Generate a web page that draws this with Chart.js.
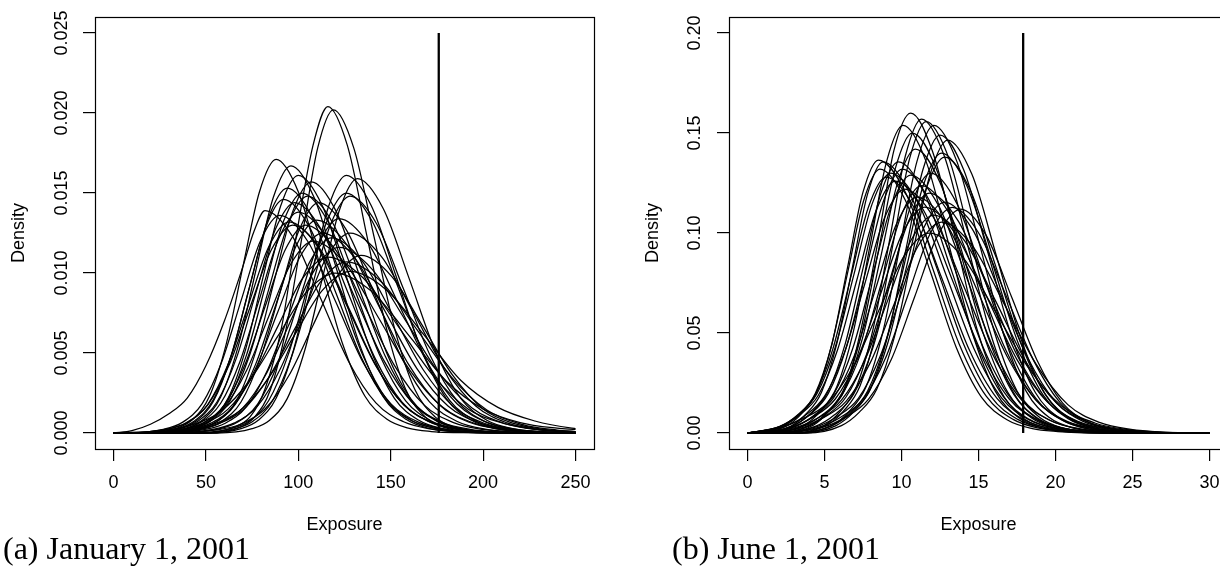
<!DOCTYPE html>
<html>
<head>
<meta charset="utf-8">
<script src="https://cdn.jsdelivr.net/npm/chart.js@4.4.1/dist/chart.umd.min.js"></script>
<style>
  html, body { margin: 0; padding: 0; background: #fff; width: 1220px; height: 572px; overflow: hidden; }
  .panel { position: absolute; top: 0; }
  #wrapA { left: 0; width: 610px; height: 572px; }
  #wrapB { left: 610px; width: 640px; height: 572px; }
  .caption { position: absolute; top: 532px; font-family: "Liberation Serif", serif; font-size: 32px; line-height: 1; color: #000; white-space: nowrap; }
  #capA { left: 3px; }
  #capB { left: 672px; }
</style>
</head>
<body>
<div class="panel" id="wrapA"><canvas id="chartA" width="610" height="572"></canvas></div>
<div class="panel" id="wrapB"><canvas id="chartB" width="640" height="572"></canvas></div>
<div class="caption" id="capA">(a) January 1, 2001</div>
<div class="caption" id="capB">(b) June 1, 2001</div>

<script>
// ---- data: panel (a) January 1, 2001 ----
const xTicksA = [0, 50, 100, 150, 200, 250];
const yTicksA = [0, 0.005, 0.01, 0.015, 0.02, 0.025];
const obsA = 176; // observed exposure (vertical line)
const unitA = 0.001; // curve densities below are read in thousandths
// each curve: [exposure, density] points
const curvesA = [
  [[0,0],[48,0],[65,0.35],[74,1.02],[82,2.75],[91,6.63],[99,12.38],[108,17.99],[116,20.4],[126.5,17.99],[137,12.38],[147.5,6.63],[158,2.75],[168.5,1.02],[179,0.35],[189.5,0.1],[200,0.02],[250,0]],
  [[0,0],[51,0],[68,0.34],[76.5,1.01],[85,2.73],[93.5,6.57],[102,12.26],[110.5,17.82],[119,20.2],[130,17.82],[141,12.26],[152,6.57],[163,2.73],[174,1.01],[185,0.34],[196,0.1],[207,0.02],[250,0]],
  [[0,0],[16,0],[34,0.29],[43,0.86],[52,2.31],[61,5.56],[70,10.38],[79,15.08],[88,17.1],[100,15.08],[112,10.38],[124,5.56],[136,2.31],[148,0.86],[160,0.29],[172,0.09],[184,0.02],[250,0]],
  [[0,0],[20,0],[39,0.28],[48.5,0.84],[58,2.25],[67.5,5.43],[77,10.14],[86.5,14.73],[96,16.7],[108.5,14.73],[121,10.14],[133.5,5.43],[146,2.25],[158.5,0.84],[171,0.28],[183.5,0.08],[196,0.02],[250,0]],
  [[0,0],[24,0],[43,0.27],[52.5,0.81],[62,2.17],[71.5,5.23],[81,9.77],[90.5,14.2],[100,16.1],[113,14.2],[126,9.77],[139,5.23],[152,2.17],[165,0.81],[178,0.27],[191,0.08],[204,0.02],[250,0]],
  [[0,0],[50,0],[69,0.27],[78.5,0.81],[88,2.17],[97.5,5.23],[107,9.77],[116.5,14.2],[126,16.1],[139.5,14.2],[153,9.77],[166.5,5.23],[180,2.17],[193.5,0.81],[207,0.27],[220.5,0.08],[234,0.02],[250,0]],
  [[0,0],[56,0],[75,0.27],[84.5,0.8],[94,2.15],[103.5,5.17],[113,9.65],[122.5,14.02],[132,15.9],[146,14.02],[160,9.65],[174,5.17],[188,2.15],[202,0.8],[216,0.27],[230,0.08],[244,0.02],[250,0.01]],
  [[0,0],[27,0],[47,0.27],[57,0.79],[67,2.12],[77,5.1],[87,9.53],[97,13.85],[107,15.7],[120.5,13.85],[134,9.53],[147.5,5.1],[161,2.12],[174.5,0.79],[188,0.27],[201.5,0.08],[215,0.02],[250,0]],
  [[0,0],[14,0],[34,0.26],[44,0.77],[54,2.07],[64,4.97],[74,9.29],[84,13.49],[94,15.3],[107.5,13.49],[121,9.29],[134.5,4.97],[148,2.07],[161.5,0.77],[175,0.26],[188.5,0.08],[202,0.02],[250,0]],
  [[0,0],[42,0],[63,0.26],[73.5,0.75],[84,2.03],[94.5,4.88],[105,9.11],[115.5,13.23],[126,15],[140,13.23],[154,9.11],[168,4.88],[182,2.03],[196,0.75],[210,0.26],[224,0.08],[238,0.02],[250,0]],
  [[0,0],[44,0],[65,0.25],[75.5,0.74],[86,2],[96.5,4.81],[107,8.98],[117.5,13.05],[128,14.8],[142.5,13.05],[157,8.98],[171.5,4.81],[186,2],[200.5,0.74],[215,0.25],[229.5,0.07],[244,0.01],[250,0.01]],
  [[0,0],[22,0],[42,0.26],[52,0.75],[62,2.03],[72,4.88],[82,9.11],[92,13.23],[102,15],[116,13.23],[130,9.11],[144,4.88],[158,2.03],[172,0.75],[186,0.26],[200,0.08],[214,0.02],[250,0]],
  [[0,0],[21,0],[42,0.25],[52.5,0.74],[63,2],[73.5,4.81],[84,8.98],[94.5,13.05],[105,14.8],[119,13.05],[133,8.98],[147,4.81],[161,2],[175,0.74],[189,0.25],[203,0.07],[217,0.01],[250,0]],
  [[0,0],[10,0.15],[20,0.55],[30,1.2],[40,2.2],[50,4.2],[60,7],[70,10.4],[76,12.6],[82,13.9],[97,12.26],[112,8.44],[127,4.52],[142,1.88],[157,0.7],[172,0.24],[187,0.07],[202,0.01],[250,0]],
  [[0,0],[14,0],[35,0.24],[45.5,0.72],[56,1.94],[66.5,4.68],[77,8.74],[87.5,12.7],[98,14.4],[112.5,12.7],[127,8.74],[141.5,4.68],[156,1.94],[170.5,0.72],[185,0.24],[199.5,0.07],[214,0.01],[250,0]],
  [[0,0],[27,0],[48,0.24],[58.5,0.72],[69,1.94],[79.5,4.68],[90,8.74],[100.5,12.7],[111,14.4],[126,12.7],[141,8.74],[156,4.68],[171,1.94],[186,0.72],[201,0.24],[216,0.07],[231,0.01],[250,0]],
  [[0,0],[6,0],[27,0.23],[37.5,0.68],[48,1.84],[58.5,4.42],[69,8.26],[79.5,12],[90,13.6],[105,12],[120,8.26],[135,4.42],[150,1.84],[165,0.68],[180,0.23],[195,0.07],[210,0.01],[250,0]],
  [[0,0],[34,0],[56,0.23],[67,0.67],[78,1.81],[89,4.36],[100,8.13],[111,11.82],[122,13.4],[138,11.82],[154,8.13],[170,4.36],[186,1.81],[202,0.67],[218,0.23],[234,0.07],[250,0.01]],
  [[0,0],[7,0],[29,0.22],[40,0.66],[51,1.78],[62,4.29],[73,8.01],[84,11.64],[95,13.2],[110.5,11.64],[126,8.01],[141.5,4.29],[157,1.78],[172.5,0.66],[188,0.22],[203.5,0.07],[219,0.01],[250,0]],
  [[0,0],[17,0],[41,0.21],[53,0.63],[65,1.69],[77,4.06],[89,7.59],[101,11.03],[113,12.5],[130,11.03],[147,7.59],[164,4.06],[181,1.69],[198,0.63],[215,0.21],[232,0.06],[249,0.01],[250,0.01]],
  [[0,0],[28,0],[53,0.21],[65.5,0.63],[78,1.69],[90.5,4.06],[103,7.59],[115.5,11.03],[128,12.5],[145,11.03],[162,7.59],[179,4.06],[196,1.69],[213,0.63],[230,0.21],[247,0.06],[250,0.05]],
  [[0,0],[18,0],[44,0.2],[57,0.58],[70,1.57],[83,3.77],[96,7.04],[109,10.23],[122,11.6],[140,10.23],[158,7.04],[176,3.77],[194,1.57],[212,0.58],[230,0.2],[248,0.06],[250,0.05]],
  [[0,0],[14,0],[42,0.18],[56,0.54],[70,1.44],[84,3.48],[98,6.49],[112,9.44],[126,10.7],[145,9.44],[164,6.49],[183,3.48],[202,1.44],[221,0.54],[240,0.18],[250,0.09]],
  [[0,0],[8,0],[38,0.17],[53,0.51],[68,1.36],[83,3.28],[98,6.13],[113,8.91],[128,10.1],[148,8.91],[168,6.13],[188,3.28],[208,1.6],[228,0.75],[248,0.3],[250,0.28]],
  [[0,0],[27,0.17],[42.5,0.5],[58,1.35],[73.5,3.25],[89,6.07],[104.5,8.82],[120,10],[140,8.82],[160,6.07],[180,3.25],[200,1.5],[220,0.65],[240,0.3],[250,0.22]],
  [[0,0],[30,0],[56,0.19],[69,0.56],[82,1.5],[95,3.61],[108,6.74],[121,9.79],[134,11.1],[150.5,9.79],[167,6.74],[183.5,3.61],[200,1.5],[216.5,0.6],[233,0.22],[250,0.08]],
  [[0,0],[16,0],[38,0.22],[49,0.65],[60,1.76],[71,4.23],[82,7.89],[93,11.47],[104,13],[120,11.47],[136,7.89],[152,4.23],[168,1.76],[184,0.65],[200,0.22],[216,0.07],[232,0.01],[250,0]],
  [[0,0],[12,0],[36,0.2],[48,0.6],[60,1.62],[72,3.9],[84,7.28],[96,10.58],[108,12],[125.5,10.58],[143,7.28],[160.5,3.9],[178,1.62],[195.5,0.6],[213,0.2],[230.5,0.06],[248,0.01],[250,0.01]],
  [[0,0],[8,0],[35,0.19],[48.5,0.55],[62,1.49],[75.5,3.58],[89,6.68],[102.5,9.7],[116,11],[135,9.7],[154,6.68],[173,3.58],[192,1.49],[211,0.6],[230,0.22],[249,0.08],[250,0.08]],
  [[0,0],[16,0],[37,0.23],[47.5,0.69],[58,1.86],[68.5,4.49],[79,8.38],[89.5,12.17],[100,13.8],[115.5,12.17],[131,8.38],[146.5,4.49],[162,1.86],[177.5,0.69],[193,0.23],[208.5,0.07],[224,0.01],[250,0]],
  [[0,0],[16,0],[35,0.25],[44.5,0.73],[54,1.97],[63.5,4.75],[73,8.86],[82.5,12.88],[92,14.6],[106,12.88],[120,8.86],[134,4.75],[148,1.97],[162,0.73],[176,0.25],[190,0.07],[204,0.01],[250,0]],
  [[0,0],[22,0],[44,0.23],[55,0.67],[66,1.8],[77,4.32],[88,8.07],[99,11.73],[110,13.3],[126.5,11.73],[143,8.07],[159.5,4.32],[176,1.8],[192.5,0.67],[209,0.23],[225.5,0.07],[242,0.01],[250,0]],
  [[0,0],[5,0],[28,0.22],[39.5,0.65],[51,1.76],[62.5,4.23],[74,7.89],[85.5,11.47],[97,13],[112,11.47],[127,7.89],[142,4.23],[157,1.76],[172,0.65],[187,0.22],[202,0.07],[217,0.01],[250,0]],
  [[0,0],[26,0],[49,0.21],[60.5,0.61],[72,1.65],[83.5,3.97],[95,7.41],[106.5,10.76],[118,12.2],[134.5,10.76],[151,7.41],[167.5,3.97],[184,1.65],[200.5,0.61],[217,0.21],[233.5,0.06],[250,0.01]]
];

// ---- data: panel (b) June 1, 2001 ----
const xTicksB = [0, 5, 10, 15, 20, 25, 30];
const yTicksB = [0, 0.05, 0.1, 0.15, 0.2];
const obsB = 17.9;
const unitB = 0.01; // curve densities below are read in hundredths
const curvesB = [
  [[0,0],[2.2,0],[4.3,0.4],[5.3,1.12],[6.4,2.4],[7.4,5.28],[8.5,9.71],[9.5,14.11],[10.6,16],[12,14.11],[13.5,9.71],[14.9,5.2],[16.4,2.16],[17.8,0.8],[19.3,0.27],[20.7,0.08],[22.2,0.02],[30,0]],
  [[0,0],[1.5,0],[3.65,0.38],[4.73,1.08],[5.8,2.31],[6.88,5.08],[7.95,9.34],[9.03,13.57],[10.1,15.38],[11.6,13.57],[13.1,9.34],[14.6,5],[16.1,2.08],[17.6,0.77],[19.1,0.26],[20.6,0.08],[22.1,0.02],[30,0]],
  [[0,0],[2.9,0],[5,0.39],[6.05,1.1],[7.1,2.36],[8.15,5.18],[9.2,9.53],[10.25,13.85],[11.3,15.7],[12.78,13.85],[14.25,9.53],[15.73,5.1],[17.2,2.12],[18.68,0.79],[20.15,0.27],[21.63,0.08],[23.1,0.02],[30,0]],
  [[0,0],[3,0],[5.15,0.39],[6.23,1.09],[7.3,2.34],[8.38,5.14],[9.45,9.45],[10.53,13.73],[11.6,15.57],[13.08,13.73],[14.55,9.45],[16.03,5.06],[17.5,2.1],[18.98,0.78],[20.45,0.26],[21.93,0.08],[23.4,0.02],[30,0]],
  [[0,0],[3.3,0],[5.5,0.38],[6.6,1.08],[7.7,2.31],[8.8,5.08],[9.9,9.34],[11,13.57],[12.1,15.38],[13.6,13.57],[15.1,9.34],[16.6,5],[18.1,2.08],[19.6,0.77],[21.1,0.26],[22.6,0.08],[24.1,0.02],[30,0]],
  [[0,0],[3.5,0],[5.75,0.37],[6.88,1.04],[8,2.24],[9.13,4.92],[10.25,9.04],[11.38,13.14],[12.5,14.9],[14.05,13.14],[15.6,9.04],[17.15,4.84],[18.7,2.01],[20.25,0.75],[21.8,0.25],[23.35,0.07],[24.9,0.01],[30,0]],
  [[0,0],[3.8,0],[6.1,0.37],[7.25,1.03],[8.4,2.2],[9.55,4.83],[10.7,8.89],[11.85,12.92],[13,14.65],[14.58,12.92],[16.15,8.89],[17.73,4.76],[19.3,1.98],[20.88,0.73],[22.45,0.25],[24.03,0.07],[25.6,0.01],[30,0]],
  [[0,0],[1.9,0],[4.1,0.38],[5.2,1.05],[6.3,2.25],[7.4,4.95],[8.5,9.11],[9.6,13.23],[10.7,15],[12.25,13.23],[13.8,9.11],[15.35,4.88],[16.9,2.03],[18.45,0.75],[20,0.26],[21.55,0.08],[23.1,0.02],[30,0]],
  [[0,0],[3,0],[5.4,0.35],[6.6,0.98],[7.8,2.1],[9,4.62],[10.2,8.5],[11.4,12.35],[12.6,14],[14.25,12.35],[15.9,8.5],[17.55,4.55],[19.2,1.89],[20.85,0.7],[22.5,0.24],[24.15,0.07],[25.8,0.01],[30,0]],
  [[0,0],[3,0],[5.45,0.35],[6.68,0.97],[7.9,2.07],[9.13,4.55],[10.35,8.38],[11.58,12.17],[12.8,13.8],[14.45,12.17],[16.1,8.38],[17.75,4.49],[19.4,1.86],[21.05,0.69],[22.7,0.23],[24.35,0.07],[26,0.01],[30,0]],
  [[0,0],[0.5,0],[2.5,0.34],[3.5,0.96],[4.5,2.05],[5.5,4.5],[6.5,8.29],[7.5,12.04],[8.5,13.65],[10.25,12.04],[12,8.29],[13.75,4.44],[15.5,1.84],[17.25,0.68],[19,0.23],[20.75,0.07],[22.5,0.01],[30,0]],
  [[0,0],[0.8,0],[2.8,0.34],[3.8,0.95],[4.8,2.03],[5.8,4.47],[6.8,8.23],[7.8,11.96],[8.8,13.56],[10.55,11.96],[12.3,8.23],[14.05,4.41],[15.8,1.83],[17.55,0.68],[19.3,0.23],[21.05,0.07],[22.8,0.01],[30,0]],
  [[0,0],[0.2,0],[2.3,0.33],[3.35,0.92],[4.4,1.98],[5.45,4.36],[6.5,8.01],[7.55,11.64],[8.6,13.2],[10.25,11.64],[11.9,8.01],[13.55,4.29],[15.2,1.78],[16.85,0.66],[18.5,0.22],[20.15,0.07],[21.8,0.01],[30,0]],
  [[0,0],[0.6,0],[2.9,0.34],[4.05,0.95],[5.2,2.03],[6.35,4.47],[7.5,8.23],[8.65,11.96],[9.8,13.56],[11.5,11.96],[13.2,8.23],[14.9,4.41],[16.6,1.83],[18.3,0.68],[20,0.23],[21.7,0.07],[23.4,0.01],[30,0]],
  [[0,0],[0.45,0],[2.85,0.33],[4.05,0.92],[5.25,1.98],[6.45,4.36],[7.65,8.01],[8.85,11.64],[10.05,13.2],[11.8,11.64],[13.55,8.01],[15.3,4.29],[17.05,1.78],[18.8,0.66],[20.55,0.22],[22.3,0.07],[24.05,0.01],[30,0]],
  [[0,0],[0.6,0],[3.1,0.32],[4.35,0.9],[5.6,1.94],[6.85,4.26],[8.1,7.83],[9.35,11.38],[10.6,12.9],[12.4,11.38],[14.2,7.83],[16,4.19],[17.8,1.74],[19.6,0.65],[21.4,0.22],[23.2,0.06],[25,0.01],[30,0]],
  [[0,0],[0.9,0],[3.5,0.31],[4.8,0.87],[6.1,1.86],[7.4,4.08],[8.7,7.51],[10,10.91],[11.3,12.37],[13.15,10.91],[15,7.51],[16.85,4.02],[18.7,1.67],[20.55,0.62],[22.4,0.21],[24.25,0.06],[26.1,0.01],[30,0]],
  [[0,0],[1,0],[3.7,0.3],[5.05,0.84],[6.4,1.8],[7.75,3.96],[9.1,7.28],[10.45,10.58],[11.8,12],[13.7,10.58],[15.6,7.28],[17.5,3.9],[19.4,1.62],[21.3,0.6],[23.2,0.2],[25.1,0.06],[27,0.01],[30,0]],
  [[0,0],[1.6,0],[4.4,0.29],[5.8,0.81],[7.2,1.73],[8.6,3.81],[10,7.01],[11.4,10.19],[12.8,11.55],[14.6,10.19],[16.4,7.01],[18.2,3.75],[20,1.56],[21.8,0.58],[23.6,0.2],[25.4,0.06],[27.2,0.01],[30,0]],
  [[0,0],[1.7,0],[4.6,0.28],[6.05,0.79],[7.5,1.69],[8.95,3.72],[10.4,6.85],[11.85,9.95],[13.3,11.28],[15.05,9.95],[16.8,6.85],[18.55,3.67],[20.3,1.52],[22.05,0.56],[23.8,0.19],[25.55,0.06],[27.3,0.01],[30,0]],
  [[0,0],[1.85,0],[4.85,0.28],[6.35,0.78],[7.85,1.68],[9.35,3.7],[10.85,6.8],[12.35,9.88],[13.85,11.2],[15.5,9.88],[17.15,6.8],[18.8,3.64],[20.45,1.51],[22.1,0.56],[23.75,0.19],[25.4,0.06],[27.05,0.01],[30,0]],
  [[0,0],[0.1,0],[3.1,0.27],[4.6,0.76],[6.1,1.64],[7.6,3.6],[9.1,6.62],[10.6,9.61],[12.1,10.9],[14.1,9.61],[16.1,6.62],[18.1,3.54],[20.1,1.47],[22.1,0.55],[24.1,0.19],[26.1,0.05],[28.1,0.01],[30,0]],
  [[0,0],[0.2,0],[3.3,0.26],[4.85,0.74],[6.4,1.58],[7.95,3.48],[9.5,6.4],[11.05,9.31],[12.6,10.55],[14.65,9.31],[16.7,6.4],[18.75,3.43],[20.8,1.42],[22.85,0.53],[24.9,0.18],[26.95,0.05],[29,0.01],[30,0]],
  [[0,0],[1.9,0.25],[3.55,0.7],[5.2,1.5],[6.85,3.3],[8.5,6.07],[10.15,8.82],[11.8,10],[13.95,8.82],[16.1,6.07],[18.25,3.25],[20.4,1.35],[22.55,0.5],[24.7,0.17],[26.85,0.05],[29,0.01],[30,0]],
  [[0,0],[2.1,0.33],[3.3,0.91],[4.5,1.95],[5.7,4.29],[6.9,7.89],[8.1,11.47],[9.3,13],[11.1,11.47],[12.9,7.89],[14.7,4.23],[16.5,1.76],[18.3,0.65],[20.1,0.22],[21.9,0.07],[23.7,0.01],[30,0]],
  [[0,0],[2.1,0.32],[3.35,0.88],[4.6,1.89],[5.85,4.16],[7.1,7.65],[8.35,11.11],[9.6,12.6],[11.45,11.11],[13.3,7.65],[15.15,4.1],[17,1.7],[18.85,0.63],[20.7,0.21],[22.55,0.06],[24.4,0.01],[30,0]],
  [[0,0],[2.4,0.31],[3.7,0.85],[5,1.83],[6.3,4.03],[7.6,7.41],[8.9,10.76],[10.2,12.2],[12.1,10.76],[14,7.41],[15.9,3.97],[17.8,1.65],[19.7,0.61],[21.6,0.21],[23.5,0.06],[25.4,0.01],[30,0]],
  [[0,0],[0.2,0],[2.9,0.3],[4.25,0.83],[5.6,1.77],[6.95,3.89],[8.3,7.16],[9.65,10.41],[11,11.8],[12.95,10.41],[14.9,7.16],[16.85,3.84],[18.8,1.59],[20.75,0.59],[22.7,0.2],[24.65,0.06],[26.6,0.01],[30,0]],
  [[0,0],[2.8,0.28],[4.25,0.79],[5.7,1.7],[7.15,3.73],[8.6,6.86],[10.05,9.97],[11.5,11.3],[13.5,9.97],[15.5,6.86],[17.5,3.67],[19.5,1.53],[21.5,0.57],[23.5,0.19],[25.5,0.06],[27.5,0.01],[30,0]],
  [[0,0],[2.1,0.32],[3.25,0.9],[4.4,1.92],[5.55,4.22],[6.7,7.77],[7.85,11.29],[9,12.8],[10.8,11.29],[12.6,7.77],[14.4,4.16],[16.2,1.73],[18,0.64],[19.8,0.22],[21.6,0.06],[23.4,0.01],[30,0]],
  [[0,0],[1.7,0],[4,0.36],[5.15,0.99],[6.3,2.13],[7.45,4.69],[8.6,8.62],[9.75,12.52],[10.9,14.2],[12.5,12.52],[14.1,8.62],[15.7,4.62],[17.3,1.92],[18.9,0.71],[20.5,0.24],[22.1,0.07],[23.7,0.01],[30,0]],
  [[0,0],[1.9,0],[4.4,0.33],[5.65,0.91],[6.9,1.95],[8.15,4.29],[9.4,7.89],[10.65,11.47],[11.9,13],[13.6,11.47],[15.3,7.89],[17,4.23],[18.7,1.76],[20.4,0.65],[22.1,0.22],[23.8,0.07],[25.5,0.01],[30,0]]
];

Chart.defaults.font.family = '"Liberation Sans", Arial, sans-serif';
Chart.defaults.font.size = 18;
Chart.defaults.color = '#000';

// R-style closed box around the plot region
const boxPlugin = {
  id: 'box',
  afterDatasetsDraw(chart) {
    const { ctx, chartArea: a } = chart;
    ctx.save();
    ctx.strokeStyle = '#000';
    ctx.lineWidth = 1.2;
    ctx.strokeRect(Math.round(a.left) + 0.5, Math.round(a.top) + 0.5,
      Math.round(a.right - a.left), Math.round(a.bottom - a.top));
    ctx.restore();
  }
};

function curveSets(curves, unit) {
  return curves.map(pts => ({
    data: pts.map(([x, y]) => ({ x: x, y: y * unit })),
    borderColor: '#000',
    borderWidth: 1.25,
    pointRadius: 0,
    fill: false,
    cubicInterpolationMode: 'monotone'
  }));
}

function makePanel(id, p) {
  const datasets = curveSets(p.curves, p.unit);
  datasets.push({
    data: [{ x: p.obs, y: 0 }, { x: p.obs, y: p.yTicks[p.yTicks.length - 1] }],
    borderColor: '#000',
    borderWidth: 2.3,
    pointRadius: 0,
    tension: 0
  });
  const tickGrid = { drawOnChartArea: false, drawTicks: true, tickLength: 12, color: '#000', lineWidth: 1.2 };
  return new Chart(document.getElementById(id), {
    type: 'line',
    data: { datasets: datasets },
    options: {
      responsive: false,
      animation: false,
      devicePixelRatio: 1,
      events: [],
      layout: { padding: p.pad },
      plugins: { legend: { display: false }, tooltip: { enabled: false } },
      scales: {
        x: {
          type: 'linear',
          min: p.xMin, max: p.xMax,
          afterBuildTicks: s => { s.ticks = p.xTicks.map(v => ({ value: v })); },
          afterFit: s => { s.height = 123; },
          grid: tickGrid,
          border: { display: false },
          ticks: { autoSkip: false, maxRotation: 0, padding: 11, callback: v => String(v) },
          title: { display: true, text: 'Exposure', padding: { top: 0, bottom: 36 } }
        },
        y: {
          min: p.yMin, max: p.yMax,
          afterBuildTicks: s => { s.ticks = p.yTicks.map(v => ({ value: v })); },
          afterFit: s => { s.width = p.yWidth; },
          grid: tickGrid,
          border: { display: false },
          ticks: { autoSkip: false, minRotation: 90, maxRotation: 90, crossAlign: 'center',
                   padding: p.yPad, callback: v => v.toFixed(p.digits) },
          title: { display: true, text: 'Density', padding: { top: p.titlePad, bottom: 0 } }
        }
      }
    },
    plugins: [boxPlugin]
  });
}

makePanel('chartA', {
  curves: curvesA, unit: unitA, obs: obsA, xTicks: xTicksA, yTicks: yTicksA,
  xMin: -10, xMax: 260, yMin: -0.001, yMax: 0.026, digits: 3,
  yWidth: 95, yPad: -2, titlePad: 8, pad: { left: 0, right: 16, top: 17, bottom: 0 }
});

makePanel('chartB', {
  curves: curvesB, unit: unitB, obs: obsB, xTicks: xTicksB, yTicks: yTicksB,
  xMin: -1.2, xMax: 31.2, yMin: -0.008, yMax: 0.208, digits: 2,
  yWidth: 119, yPad: 4, titlePad: 32, pad: { left: 0, right: 22, top: 17, bottom: 0 }
});
</script>
</body>
</html>
